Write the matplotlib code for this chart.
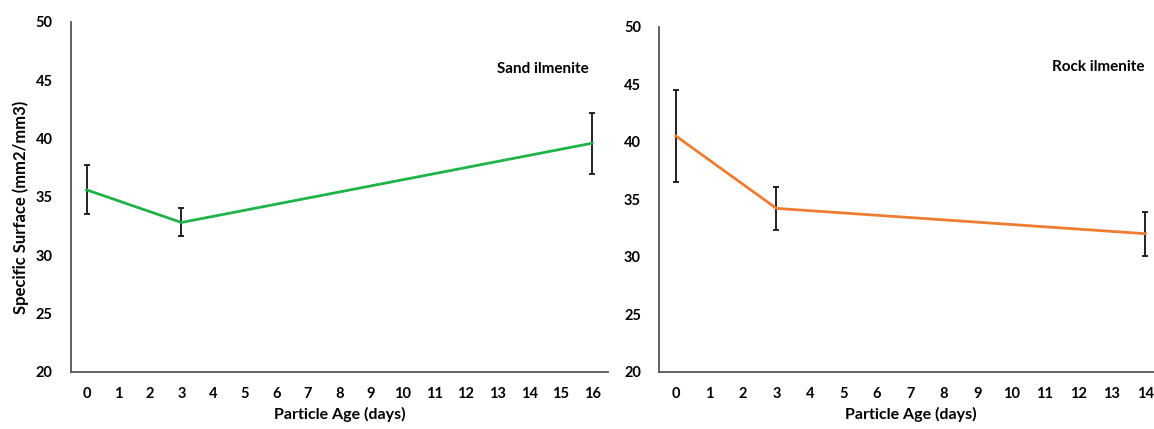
import numpy as np
import matplotlib
matplotlib.use('Agg')
import matplotlib.pyplot as plt

plt.rcParams['font.family'] = ['Lato', 'DejaVu Sans']
plt.rcParams['font.weight'] = 'bold'

# sand ilmenite
sand_age = [0, 3, 16]
sand_surface = [35.6, 32.8, 39.6]
sand_err = [2.1, 1.2, 2.6]

# rock ilmenite
rock_age = [0, 3, 14]
rock_surface = [40.5, 34.2, 32.0]
rock_err = [4.0, 1.85, 1.9]

fig = plt.figure(figsize=(11.54, 4.29), dpi=100)
ax1 = fig.add_axes([0.0613, 0.1336, 0.4656, 0.8152])
ax2 = fig.add_axes([0.5711, 0.1336, 0.4359, 0.8042])

panels = [
    (ax1, sand_age, sand_surface, sand_err, '#1fb34a', 'Sand ilmenite', 16, 0.866),
    (ax2, rock_age, rock_surface, rock_err, '#ed7d31', 'Rock ilmenite', 14, 0.884),
]

for ax, x, y, e, col, name, xmax, ty in panels:
    ax.errorbar(x, y, yerr=e, color=col, lw=2.0, ecolor='#222222',
                elinewidth=1.4, capsize=2.2, capthick=1.4, zorder=3)
    ax.set_xlim(-0.5, xmax + 0.5)
    ax.set_ylim(20, 50)
    ax.set_xticks(np.arange(0, xmax + 1))
    ax.set_yticks(np.arange(20, 51, 5))
    ax.tick_params(length=0, labelsize=10.5)
    for lab in ax.get_xticklabels() + ax.get_yticklabels():
        lab.set_fontweight('bold')
    ax.tick_params(axis='x', pad=11)
    ax.tick_params(axis='y', pad=13)
    for s in ['top', 'right']:
        ax.spines[s].set_visible(False)
    for s in ['left', 'bottom']:
        ax.spines[s].set_color('#555555')
        ax.spines[s].set_linewidth(1.3)
    ax.set_xlabel('Particle Age (days)', fontsize=11.5, fontweight='bold', labelpad=4)
    ax.text(0.965, ty, name, transform=ax.transAxes,
            ha='right', va='center', fontsize=11, fontweight='bold')

ax1.set_ylabel('Specific Surface (mm2/mm3)', fontsize=12, fontweight='bold', labelpad=7)
ax1.yaxis.set_label_coords(-0.078, 0.47)

fig.savefig('out.png', dpi=100)
